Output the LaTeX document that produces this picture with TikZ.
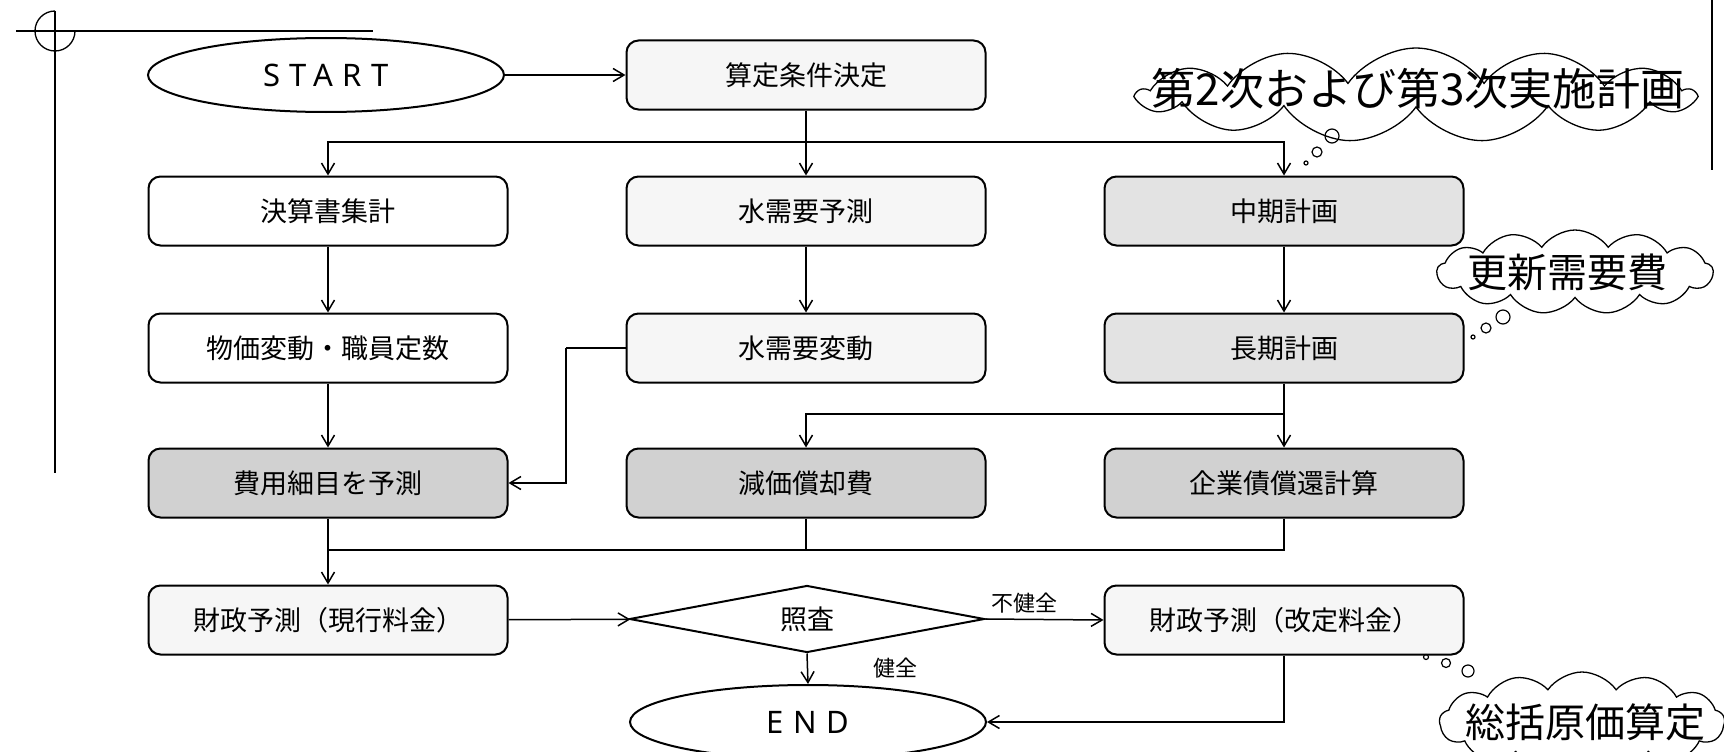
\documentclass[tikz,border=0pt]{standalone}
\usepackage{fontspec}
\usetikzlibrary{arrows.meta,shapes.geometric,shapes.symbols}
\newfontfamily\jpfont{Noto Sans CJK JP}
\newfontfamily\capfont[LetterSpace=30]{Noto Sans}
\begin{document}
\begin{tikzpicture}[x=1pt,y=-1pt,
  box/.style={draw, line width=2pt, rounded corners=12pt, minimum width=359pt,
    minimum height=69pt, inner sep=0pt, font=\jpfont\fontsize{27pt}{30pt}\selectfont},
  plain/.style={box, fill=white},
  light/.style={box, fill=gray!7},
  mid/.style={box, fill=gray!22},
  dark/.style={box, fill=gray!36},
  term/.style={draw, line width=2pt, ellipse, minimum width=356pt, minimum height=74pt,
    inner sep=0pt, fill=white, font=\capfont\fontsize{31pt}{34pt}\selectfont},
  arr/.style={-{Straight Barb[length=11pt,width=13pt]}, line width=1.5pt},
  ln/.style={line width=1.5pt},
  thought/.style={draw, line width=1.3pt, cloud, cloud puffs=13, cloud puff arc=110,
    inner sep=0pt, fill=white},
  cloudtext/.style={font=\jpfont\fontsize{#1}{#1}\selectfont, inner sep=0pt},
  lbl/.style={font=\jpfont\fontsize{22pt}{24pt}\selectfont, inner sep=0pt}]
\useasboundingbox (0,0) rectangle (1724,752);
\clip (0,0) rectangle (1724,752);

% registration marks
\draw[line width=1.5pt] (16,31) -- (373,31);
\draw[line width=1.5pt] (55,11) -- (55,473);
\draw[line width=1.3pt] (75,31) arc[start angle=0, end angle=270, radius=20];
\draw[line width=1.5pt] (1712,0) -- (1712,170);

% nodes
\node[term] (start) at (326,75) {START};
\node[light] (santei) at (806,75) {算定条件決定};
\node[plain] (kessan) at (328,211) {決算書集計};
\node[light] (suiyo) at (806,211) {水需要予測};
\node[mid] (chuki) at (1284,211) {中期計画};
\node[plain] (bukka) at (328,348) {物価変動・職員定数};
\node[light] (hendo) at (806,348) {水需要変動};
\node[mid] (choki) at (1284,348) {長期計画};
\node[dark] (hiyou) at (328,483) {費用細目を予測};
\node[dark] (genka) at (806,483) {減価償却費};
\node[dark] (kigyo) at (1284,483) {企業債償還計算};
\node[light] (zaisei1) at (328,620) {財政予測（現行料金）};
\node[draw, line width=2pt, diamond, shape aspect=5.3, minimum width=355pt,
  minimum height=67pt, inner sep=0pt, fill=white,
  font=\jpfont\fontsize{27pt}{30pt}\selectfont] (shousa) at (807,619) {照査};
\node[light] (zaisei2) at (1284,620) {財政予測（改定料金）};
\node[term] (end) at (808,722) {END};

% connectors
\coordinate (j1) at (806,142);
\coordinate (j2) at (1284,414);
\coordinate (j3) at (328,550);
\coordinate (c1) at (566,348);
\draw[arr] (start) -- (santei);
\draw[arr] (santei.south) -- (suiyo.north);
\draw[arr] (j1) -| (kessan.north);
\draw[arr] (j1) -| (chuki.north);
\draw[arr] (kessan) -- (bukka);
\draw[arr] (suiyo) -- (hendo);
\draw[arr] (chuki) -- (choki);
\draw[arr] (bukka) -- (hiyou);
\draw[ln] (hendo.west) -- (c1);
\draw[arr] (c1) |- (hiyou.east);
\draw[arr] (choki) -- (kigyo);
\draw[arr] (j2) -| (genka.north);
\draw[arr] (hiyou) -- (zaisei1);
\draw[ln] (kigyo.south) |- (j3);
\draw[ln] (genka.south) -- (genka.south |- j3);
\draw[arr] (zaisei1) -- (shousa);
\draw[arr] (shousa.east) -- (zaisei2.west);
\draw[arr] (shousa.south) -- (end.north);
\draw[arr] (zaisei2.south) |- (end.east);
\node[lbl] (fuken) at (1024,603) {不健全};
\node[lbl] (ken) at (895,668) {健全};

% thought clouds
\node[thought, minimum width=555pt, minimum height=94pt] (cl1) at (1416,95) {};
\node[cloudtext=44pt] (cl1t) at (1418,89) {第2次および第3次実施計画};
\draw[line width=1.2pt] (1332,136) circle[radius=7] (1317,152) circle[radius=5] (1306,163) circle[radius=2];

\node[thought, minimum width=276pt, minimum height=84pt] (cl2) at (1575,272) {};
\node[cloudtext=40pt] (cl2t) at (1567,272) {更新需要費};
\draw[line width=1.2pt] (1503,317) circle[radius=7] (1486,328) circle[radius=5] (1473,337) circle[radius=2];

\node[thought, minimum width=285pt, minimum height=100pt] (cl3) at (1582,722) {};
\node[cloudtext=40pt] (cl3t) at (1585,722) {総括原価算定};
\draw[line width=1.2pt] (1468,671) circle[radius=6] (1446,663) circle[radius=4.5] (1426,657) circle[radius=2.5];
\end{tikzpicture}
\end{document}
